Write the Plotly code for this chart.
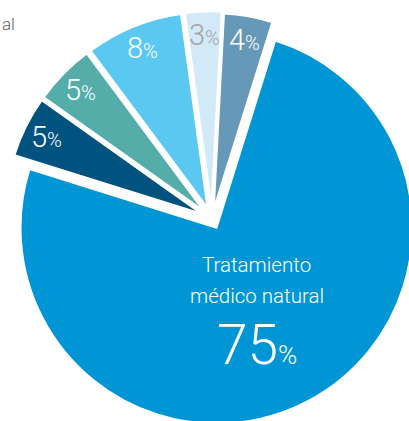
import math
import plotly.graph_objects as go

# slices, clockwise from 12 o'clock
labels = ['Categoría A', 'Tratamiento médico natural', 'Categoría B',
          'Categoría C', 'Categoría D', 'Categoría E']
values = [4, 75, 5, 5, 8, 3]
colors = ['#6699b7', '#0096d6', '#00527f', '#55ada9', '#5bc8f2', '#d2e9f7']
label_colors = ['white', 'white', 'white', 'white', 'white', '#a3a3a3']
pulls = [0.05, 0.05, 0.06, 0.06, 0.06, 0.06]

# figure is a bit larger than the window, the pie runs off the right/bottom edge
W, H = 414, 426
R = 196            # pie radius in px
CX, CY = 212, 219  # pie centre in px (from top-left)
ROT = 3


def to_paper(px, py):
    return px / W, 1 - py / H


total = sum(values)
fig = go.Figure()
annotations = []
start = ROT
for i, v in enumerate(values):
    mid = math.radians(start + v / total * 180)
    start += v / total * 360
    dx, dy = math.sin(mid), -math.cos(mid)
    # each slice is its own trace, shifted outwards by its pull
    cx = CX + pulls[i] * R * dx
    cy = CY + pulls[i] * R * dy
    fig.add_trace(go.Pie(
        values=values,
        labels=labels,
        sort=False,
        direction='clockwise',
        rotation=ROT,
        domain=dict(x=[max(0, (cx - R) / W), min(1, (cx + R) / W)],
                    y=[max(0, 1 - (cy + R) / H), min(1, 1 - (cy - R) / H)]),
        marker=dict(
            colors=[c if j == i else 'rgba(0,0,0,0)' for j, c in enumerate(colors)],
            line=dict(color='white', width=[2 if j == i else 0 for j in range(len(values))]),
        ),
        textinfo='none',
        hovertemplate='%{label}: %{value}%<extra></extra>',
        showlegend=False,
    ))

    if v == max(values):
        # big slice label, three lines
        lx, ly = cx + 0.43 * R * dx, cy + 0.43 * R * dy
        for text, size, off in [('Tratamiento', 20.5, -37), ('médico natural', 20.5, -6)]:
            x, y = to_paper(lx + 1, ly + off)
            annotations.append(dict(
                x=x, y=y, text=text,
                font=dict(family='Roboto', size=size, color='white', weight=300),
            ))
        x, y = to_paper(lx + 1, ly + 43)
        annotations.append(dict(
            x=x, y=y, text=f"{v}<span style='font-size:26px'>%</span>",
            font=dict(family='Roboto', size=55, color='white', weight=300),
        ))
    else:
        lx, ly = cx + 0.88 * R * dx, cy + 0.88 * R * dy
        x, y = to_paper(lx, ly)
        annotations.append(dict(
            x=x, y=y, text=f"{v}<span style='font-size:20px'>%</span>",
            font=dict(family='Roboto', size=29, color=label_colors[i], weight=300),
        ))

# leftover text at the top left
annotations.append(dict(
    x=0, y=to_paper(0, 24)[1], xanchor='left', text='al',
    font=dict(family='Roboto', size=17, color='#606060', weight=300),
))

for a in annotations:
    a.update(xref='paper', yref='paper', showarrow=False)
    a.setdefault('xanchor', 'center')
    a.setdefault('yanchor', 'middle')

fig.update_layout(
    width=W,
    height=H,
    margin=dict(l=0, r=0, t=0, b=0),
    paper_bgcolor='white',
    plot_bgcolor='white',
    annotations=annotations,
)

fig.write_html(
    "out.html",
    config=dict(displayModeBar=False),
    post_script="document.body.style.margin = '0'; document.body.style.overflow = 'hidden';",
)
